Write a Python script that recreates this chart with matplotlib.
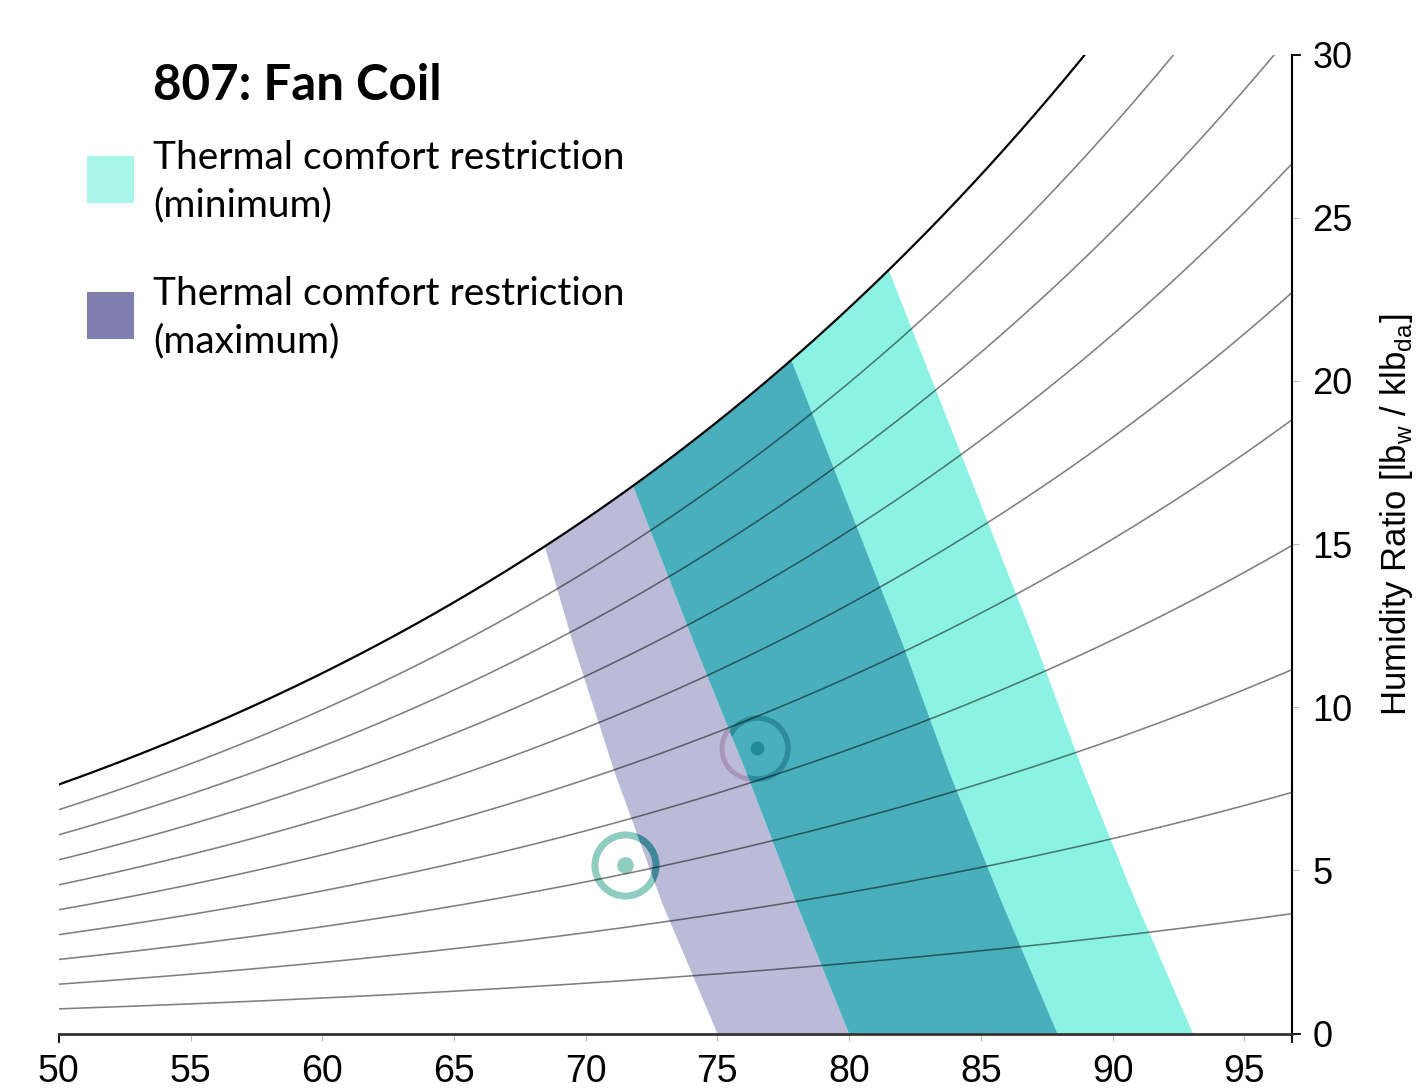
import numpy as np
import matplotlib
matplotlib.use("Agg")
import matplotlib.pyplot as plt
from matplotlib.patches import Rectangle
from matplotlib.lines import Line2D

# ---------------- data ----------------
title = "807: Fan Coil"
legend_labels = ["Thermal comfort restriction\n(minimum)",
                 "Thermal comfort restriction\n(maximum)"]
x_ticks = [50, 55, 60, 65, 70, 75, 80, 85, 90, 95]
y_ticks = [0, 5, 10, 15, 20, 25, 30]
rh_levels = [0.1, 0.2, 0.3, 0.4, 0.5, 0.6, 0.7, 0.8, 0.9]   # relative humidity curves
x_range = [50, 96.79]
y_range = [0, 30]

# comfort-zone boundaries: temperature (°F) at humidity ratio levels, plus top point on saturation
edge_w = [0, 4, 8, 12]
edge_max_left = [75.0, 72.9, 71.1, 69.5]
edge_max_left_top = 68.45
edge_min_left = [80.0, 78.0, 76.1, 74.1]
edge_min_left_top = 71.8
edge_max_right = [87.9, 85.8, 83.8, 82.0]
edge_max_right_top = 77.8
edge_min_right = [93.05, 90.9, 88.9, 87.05]
edge_min_right_top = 81.5

# observed operating points (dry bulb °F, humidity ratio lb/klb)
point_low = (71.5, 5.15)
point_high = (76.5, 8.76)
point_high_shadow = (76.33, 8.76)

# ---------------- psychrometrics (ASHRAE saturation pressure, psia) ----------------
P_ATM = 14.696
def p_ws(tf):
    T = np.asarray(tf) + 459.67
    C8, C9, C10, C11, C12, C13 = (-1.0440397e4, -1.1294650e1, -2.7022355e-2,
                                  1.2890360e-5, -2.4780681e-9, 6.5459673)
    return np.exp(C8 / T + C9 + C10 * T + C11 * T**2 + C12 * T**3 + C13 * np.log(T))

def w_ratio(tf, rh=1.0):
    pw = rh * p_ws(tf)
    return 621.945 * pw / (P_ATM - pw)   # lb_w / klb_da

# ---------------- figure ----------------
plt.rcParams["mathtext.fontset"] = "custom"
plt.rcParams["mathtext.rm"] = "Liberation Sans"
W_PX, H_PX = 1418, 1089
fig = plt.figure(figsize=(W_PX / 100, H_PX / 100), dpi=100)
ax_l, ax_r, ax_b, ax_t = 58.8, 1291.5, 1033.5, 54.5
ax = fig.add_axes([ax_l / W_PX, 1 - ax_b / H_PX, (ax_r - ax_l) / W_PX, (ax_b - ax_t) / H_PX])
ax.set_xlim(*x_range)
ax.set_ylim(*y_range)

def zone(left, left_top, right, right_top):
    xs = list(left) + [left_top]
    ys = list(edge_w) + [float(w_ratio(left_top))]
    ts = np.linspace(left_top, right_top, 80)
    xs += list(ts)
    ys += list(w_ratio(ts))
    xs += [right_top] + list(right[::-1])
    ys += [float(w_ratio(right_top))] + list(edge_w[::-1])
    return xs, ys

c_lav = "#BBBBD8"
c_cyan = "#8CF3E4"
c_over = "#4AAFBD"

xs, ys = zone(edge_max_left, edge_max_left_top, edge_max_right, edge_max_right_top)
max_poly = ax.fill(xs, ys, color=c_lav, lw=0, zorder=1)[0]
xs, ys = zone(edge_min_left, edge_min_left_top, edge_min_right, edge_min_right_top)
ax.fill(xs, ys, color=c_cyan, lw=0, zorder=1)
xs, ys = zone(edge_min_left, edge_min_left_top, edge_max_right, edge_max_right_top)
over_poly = ax.fill(xs, ys, color=c_over, lw=0, zorder=2)[0]
xs, ys = zone(edge_max_left, edge_max_left_top, edge_min_left, edge_min_left_top)
lav_only = ax.fill(xs, ys, color="none", lw=0, zorder=0)[0]

# operating point markers
ring_ms, ring_mew = 44, 5
ax.plot(*point_low, marker="o", ms=ring_ms, mfc="none", mec="#8ECDC0", mew=ring_mew, zorder=3)
dark = ax.plot(*point_low, marker="o", ms=ring_ms, mfc="none", mec="#3F8799", mew=ring_mew, zorder=3.1)[0]
dark.set_clip_path(max_poly)
ax.plot(*point_low, marker="o", ms=12, mfc="#8FCDC0", mec="none", zorder=3)

sh = ax.plot(*point_high_shadow, marker="o", ms=ring_ms, mfc="none", mec="#A995B8", mew=3.5, zorder=3)[0]
sh.set_clip_path(lav_only)
hr = ax.plot(*point_high, marker="o", ms=ring_ms, mfc="none", mec="#2C8C9C", mew=4, zorder=3.1)[0]
hr.set_clip_path(over_poly)
ax.plot(*point_high, marker="o", ms=10, mfc="#238A98", mec="none", zorder=3)

# relative humidity curves + saturation
T = np.linspace(x_range[0], x_range[1], 400)
for rh in rh_levels:
    ax.plot(T, w_ratio(T, rh), color="black", alpha=0.5, lw=1.15, zorder=4)
ax.plot(T, w_ratio(T, 1.0), color="black", lw=1.6, zorder=5)

# axes styling
for s in ["top", "left"]:
    ax.spines[s].set_visible(False)
ax.spines["right"].set_color("black")
ax.spines["right"].set_linewidth(1.5)
ax.spines["bottom"].set_color("#333333")
ax.spines["bottom"].set_linewidth(2.0)
ax.yaxis.tick_right()
ax.set_xticks(x_ticks)
ax.set_yticks(y_ticks)
ax.set_xticklabels([str(v) for v in x_ticks])
ax.set_yticklabels([str(v) for v in y_ticks])
ax.tick_params(axis="x", direction="out", length=5, width=0.8, color="#bbbbbb", pad=10,
               labelsize=27, labelfontfamily="Liberation Sans")
ax.tick_params(axis="y", direction="out", length=5, width=0.8, color="#bbbbbb", pad=10,
               labelsize=26, labelfontfamily="Liberation Sans")

# outer black end ticks
px_w = (x_range[1] - x_range[0]) / (ax_r - ax_l)
px_h = (y_range[1] - y_range[0]) / (ax_b - ax_t)
for xv in x_range:
    ax.add_line(Line2D([xv, xv], [0, -8 * px_h], color="black", lw=1.3, clip_on=False))
for yv in y_range:
    ax.add_line(Line2D([x_range[1], x_range[1] + 8 * px_w], [yv, yv], color="black", lw=1.3, clip_on=False))

# y axis label
fig.text(1406 / W_PX, 1 - 515 / H_PX, r"Humidity Ratio [lb$_\mathrm{w}$ / klb$_\mathrm{da}$]",
         rotation=90, rotation_mode="anchor", ha="center", va="baseline",
         fontsize=25, family="Liberation Sans")

# title and legend
fig.text(153 / W_PX, 1 - 100 / H_PX, title, fontsize=35.5, fontweight="bold",
         family="Lato", va="baseline")
sw_colors = ["#A8F5EA", "#8080B0"]
sw_tops = [156, 291.7]
txt_base = [169.3, 305]
for lab, col, top, base in zip(legend_labels, sw_colors, sw_tops, txt_base):
    fig.add_artist(Rectangle((86.8 / W_PX, 1 - (top + 47.3) / H_PX), 47.1 / W_PX, 47.3 / H_PX,
                             transform=fig.transFigure, color=col, lw=0))
    l1, l2 = lab.split("\n")
    fig.text(153 / W_PX, 1 - base / H_PX, l1, fontsize=28, fontweight="normal",
             family="Lato", va="baseline", color="black")
    fig.text(153 / W_PX, 1 - (base + 47.4) / H_PX, l2, fontsize=28, fontweight="normal",
             family="Lato", va="baseline", color="black")

fig.savefig("out.png", dpi=100)
